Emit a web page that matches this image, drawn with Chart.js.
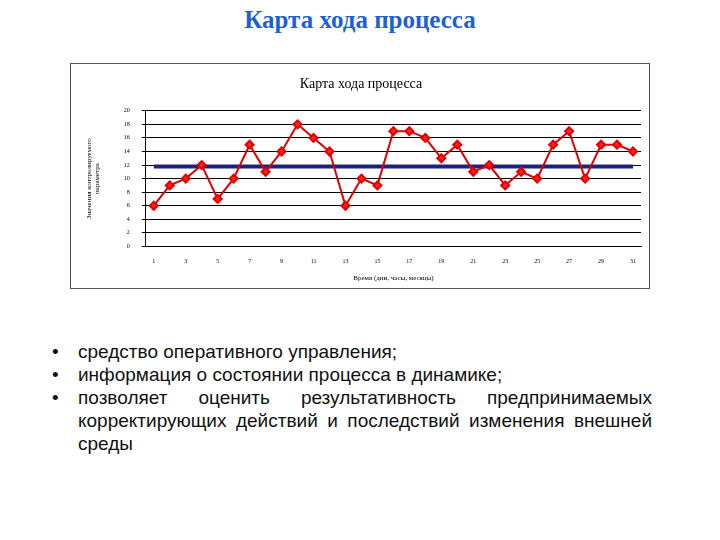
<!DOCTYPE html>
<html><head><meta charset="utf-8">
<script src="https://cdn.jsdelivr.net/npm/chart.js@4"></script>
<style>
body{margin:0;width:720px;height:540px;background:#fff;position:relative;font-family:"Liberation Sans",Arial,sans-serif}
#t{position:absolute;top:6px;left:0;width:720px;text-align:center;font:bold 25px "Liberation Serif",serif;color:#1f5fd6}
#box{position:absolute;left:70px;top:63px;width:578px;height:224px;border:1px solid #555}
ul{position:absolute;top:340px;left:52px;width:600px;margin:0;padding:0;list-style:none;font-size:19px;line-height:23px;color:#111}
li{position:relative;padding-left:26px;text-align:justify;text-align-last:left}
li:before{content:"•";position:absolute;left:0}
</style></head><body>
<div id="t">Карта хода процесса</div>
<div id="box"><canvas id="c" width="578" height="224"></canvas></div>
<ul>
<li>средство оперативного управления;</li>
<li>информация о состоянии процесса в динамике;</li>
<li>позволяет оценить результативность предпринимаемых корректирующих действий и последствий изменения внешней среды</li>
</ul>
<script>
const categories=[1,2,3,4,5,6,7,8,9,10,11,12,13,14,15,16,17,18,19,20,21,22,23,24,25,26,27,28,29,30,31];
const values=[6,9,10,12,7,10,15,11,14,18,16,14,6,10,9,17,17,16,13,15,11,12,9,11,10,15,17,10,15,15,14];
const centerValue=11.8;
const centerLine=categories.map(()=>centerValue);
new Chart(document.getElementById('c'),{
type:'line',
data:{labels:categories.map(String),datasets:[
{data:centerLine,borderColor:'#1a237e',borderWidth:4,pointRadius:0,order:2},
{data:values,borderColor:'#e00000',borderWidth:2,pointStyle:'rectRot',pointRadius:4,pointBackgroundColor:'#ff2020',pointBorderColor:'#e00000',order:1}
]},
options:{responsive:false,animation:false,
layout:{padding:{left:10,right:8,top:4,bottom:2}},
plugins:{legend:{display:false},tooltip:{enabled:false},
title:{display:true,text:'Карта хода процесса',color:'#000',font:{family:'Liberation Serif',size:14,weight:'normal'},padding:{top:8,bottom:18}}},
scales:{
x:{offset:true,grid:{display:false},border:{color:'#000'},
ticks:{color:'#000',font:{family:'Liberation Serif',size:6},autoSkip:false,maxRotation:0,callback:(v,i)=>i%2===0?categories[i]:''},
title:{display:true,text:'Время (дни, часы, месяцы)',color:'#000',font:{family:'Liberation Serif',size:7},padding:{top:6}}},
y:{min:0,max:20,ticks:{stepSize:2,color:'#000',font:{family:'Liberation Serif',size:6},padding:12},
grid:{color:'#000',drawTicks:true,tickLength:4},border:{color:'#000'},
title:{display:true,text:['Значения контролируемого','параметра'],color:'#000',font:{family:'Liberation Serif',size:7},padding:{bottom:10}}}
}}});
</script>
</body></html>
